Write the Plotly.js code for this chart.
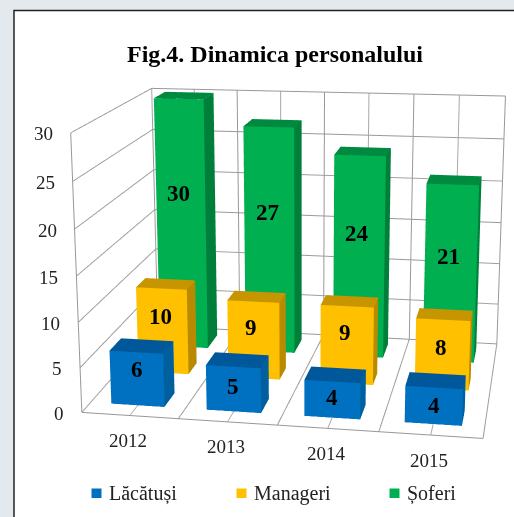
<!DOCTYPE html><html><head><meta charset="utf-8">
<script src="https://cdn.plot.ly/plotly-3.0.1.min.js"></script>
<style>html,body{margin:0;padding:0;width:514px;height:517px;overflow:hidden;background:#e3e9ec}
#plot{position:absolute;left:-364.5px;top:-363px;width:1243px;height:1243px}</style></head><body><div id="plot"></div>
<script>
var categories=['2012','2013','2014','2015'];
var seriesNames=['Lăcătuși','Manageri','Șoferi'];
var lacatusi=[6,5,4,4];
var manageri=[10,9,9,8];
var soferi=[30,27,24,21];
var seriesValues=[lacatusi,manageri,soferi];
var frontColors=['#0070c0','#ffc000','#00b050'];
var topColors=['#00579a','#c79500','#008a3f'];
var sideColors=['#00609f','#b98a00','#007f3a'];
var zTicks=[0,5,10,15,20,25,30];
var legendMarkX=[96,241,394];
// depth slots of each series on the y axis, and the height of each value label as a share of its bar
var seriesDepth=[[0.3,0.72],[1.34,1.72],[2.27,2.76]];
var labelShare=[[0.68,0.56,0.55,0.52],[0.67,0.66,0.66,0.61],[0.63,0.63,0.62,0.6]];
var labelShift=[0,-2,-2];
var FIG=1243,OX=364.5,OY=363;
function px(x){return (x+OX)/FIG}
function py(y){return 1-(y+OY)/FIG}
var FONT='Liberation Serif';
var X0=0.22,X1=0.78,XMAX=categories.length,YMAX=seriesNames.length,ZMAX=30;

function barTrace(s){
  var X=[],Y=[],Z=[],I=[],J=[],K=[],FC=[];
  seriesValues[s].forEach(function(v,c){
    var n=X.length,x0=c+X0,x1=c+X1,y0=seriesDepth[s][0],y1=seriesDepth[s][1];
    [[x0,y0,0],[x1,y0,0],[x1,y1,0],[x0,y1,0],[x0,y0,v],[x1,y0,v],[x1,y1,v],[x0,y1,v]].forEach(function(p){X.push(p[0]);Y.push(p[1]);Z.push(p[2])});
    [[0,1,5,frontColors],[0,5,4,frontColors],[1,2,6,sideColors],[1,6,5,sideColors],[4,5,6,topColors],[4,6,7,topColors]].forEach(function(f){I.push(n+f[0]);J.push(n+f[1]);K.push(n+f[2]);FC.push(f[3][s])});
  });
  return {type:'mesh3d',name:seriesNames[s],x:X,y:Y,z:Z,i:I,j:J,k:K,facecolor:FC,flatshading:true,hoverinfo:'skip',showscale:false,
    lighting:{ambient:1,diffuse:0,specular:0,roughness:1,fresnel:0}};
}
// heavier wall and floor lines at each value tick and category boundary
var gx=[],gy=[],gz=[];
function seg(a,b){gx.push(a[0],b[0],null);gy.push(a[1],b[1],null);gz.push(a[2],b[2],null)}
zTicks.forEach(function(t){seg([0,0,t],[0,YMAX,t]);seg([0,YMAX,t],[XMAX,YMAX,t])});
categories.forEach(function(c,i){[i,i+1].forEach(function(x){seg([x,YMAX,0],[x,YMAX,ZMAX]);seg([x,0,0],[x,YMAX,0])})});
seg([0,0,0],[0,0,ZMAX]);seg([0,0,0],[XMAX,0,0]);
var gridLines={type:'scatter3d',mode:'lines',x:gx,y:gy,z:gz,connectgaps:false,line:{color:'#989898',width:2},hoverinfo:'skip',showlegend:false};

var sceneAnn=[];
categories.forEach(function(c,i){sceneAnn.push({x:i+.5,y:0,z:0,text:c,showarrow:false,yshift:-25,xshift:-1.5,font:{family:FONT,size:19,color:'#222'}})});
zTicks.forEach(function(t){sceneAnn.push({x:0,y:0,z:t,text:String(t),showarrow:false,xanchor:'right',xshift:-16,yshift:-1,font:{family:FONT,size:19,color:'#222'}})});
seriesValues.forEach(function(vals,s){vals.forEach(function(v,c){
  sceneAnn.push({x:c+.5,y:seriesDepth[s][0],z:v*labelShare[s][c],text:'<b>'+v+'</b>',showarrow:false,xshift:labelShift[s],font:{family:FONT,size:23,color:'#000'}});
})});

var shapes=[{type:'rect',xref:'paper',yref:'paper',layer:'below',x0:px(13.5),x1:px(560),y0:py(10.5),y1:py(560),fillcolor:'#fff',line:{color:'#222',width:1.5}}];
var anns=[];
seriesNames.forEach(function(n,i){
  var m=legendMarkX[i];
  shapes.push({type:'rect',xref:'paper',yref:'paper',layer:'below',x0:px(m-5),x1:px(m+5),y0:py(488.5),y1:py(498),fillcolor:frontColors[i],line:{width:0}});
  anns.push({xref:'paper',yref:'paper',x:px(m+10),y:py(493),xanchor:'left',yanchor:'middle',text:n,showarrow:false,font:{family:FONT,size:20,color:'#222'}});
});
var ax={showbackground:false,showticklabels:false,ticks:'',showspikes:false,zeroline:false,showline:false,title:{text:''},gridcolor:'#a8a8a8',gridwidth:2,autorange:false};
var layout={width:FIG,height:FIG,margin:{l:0,r:0,t:0,b:0},paper_bgcolor:'#e3e9ec',showlegend:false,
 title:{text:'<b>Fig.4. Dinamica personalului</b>',xref:'paper',yref:'paper',x:px(274.5),y:py(54),xanchor:'center',yanchor:'middle',font:{family:FONT,size:24,color:'#000'}},
 shapes:shapes,annotations:anns,
 scene:{domain:{x:[0,1],y:[0,1]},bgcolor:'rgba(0,0,0,0)',dragmode:'orbit',aspectmode:'manual',aspectratio:{x:1,y:0.7386,z:0.7116},
  camera:{eye:{x:0.6381,y:-3.763,z:0.9785},center:{x:-0.2424,y:0.6043,z:-0.1975},up:{x:0,y:0.0394,z:1},projection:{type:'perspective'}},
  xaxis:Object.assign({},ax,{range:[0,XMAX],tick0:0,dtick:0.5}),
  yaxis:Object.assign({},ax,{range:[0,YMAX],showgrid:false}),
  zaxis:Object.assign({},ax,{range:[0,ZMAX],tick0:0,dtick:5}),
  annotations:sceneAnn}};
Plotly.newPlot('plot',[barTrace(2),barTrace(1),barTrace(0),gridLines],layout,{displayModeBar:false});
</script></body></html>
